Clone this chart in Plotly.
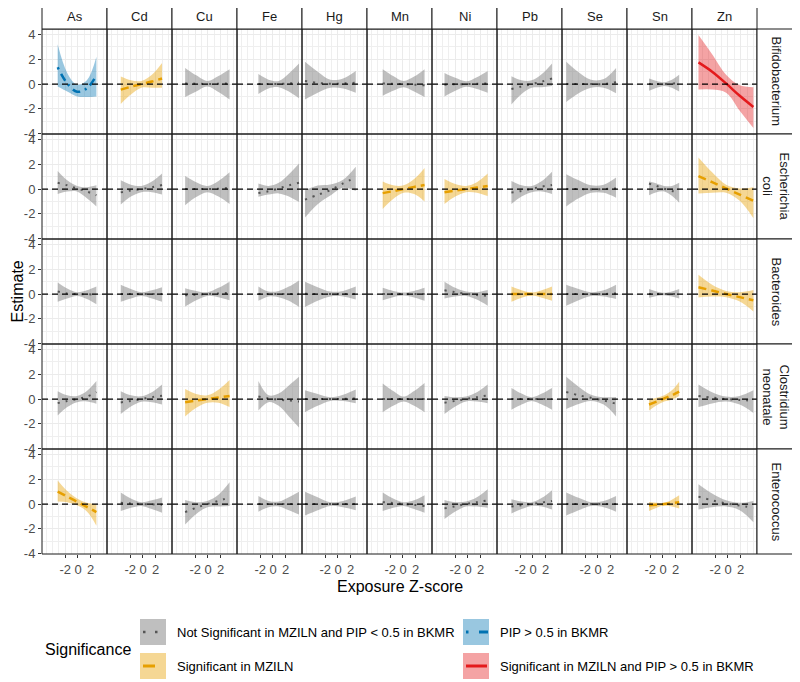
import plotly.graph_objects as go
from plotly.subplots import make_subplots

MICROBES = ["Bifidobacterium", "Escherichia<br>coli", "Bacteroides",
            "Clostridium<br>neonatale", "Enterococcus"]
METALS = ["As", "Cd", "Cu", "Fe", "Hg", "Mn", "Ni", "Pb", "Se", "Sn", "Zn"]

# exposure z-score grid per metal (aligned with METALS)
EXPOSURE_Z = [
    [-3.2, -1.7, -0.15, 1.4, 2.9],
    [-3.5, -1.9, -0.25, 1.4, 3.0],
    [-3.6, -1.85, -0.1, 1.65, 3.4],
    [-2.3, -0.7, 0.9, 2.5, 4.1],
    [-5.2, -3.2, -1.2, 0.8, 2.8],
    [-3.2, -1.55, 0.1, 1.75, 3.4],
    [-3.7, -2.0, -0.3, 1.4, 3.1],
    [-3.4, -1.8, -0.2, 1.4, 3.0],
    [-5.0, -3.05, -1.1, 0.9, 2.85],
    [-2.2, -1.0, 0.2, 1.4, 2.55],
    [-4.65, -2.5, -0.3, 1.85, 4.0],
]

# significance: ns = not significant, mz = MZILN, bk = BKMR PIP>0.5, both
SIG = [
    ["bk", "mz", "ns", "ns", "ns", "ns", "ns", "ns", "ns", "ns", "both"],
    ["ns", "ns", "ns", "ns", "ns", "mz", "mz", "ns", "ns", "ns", "mz"],
    ["ns", "ns", "ns", "ns", "ns", "ns", "ns", "mz", "ns", "ns", "mz"],
    ["ns", "ns", "mz", "ns", "ns", "ns", "ns", "ns", "ns", "mz", "ns"],
    ["mz", "ns", "ns", "ns", "ns", "ns", "ns", "ns", "ns", "mz", "ns"],
]

# Bifidobacterium
EST_BIF = [[1.35, 0.05, -0.62, -0.35, 0.7], [-0.45, -0.22, 0.0, 0.2, 0.45], [0.05, 0.03, 0.0, 0.02, 0.05],
           [0.0, 0.0, 0.0, 0.05, 0.1], [0.25, 0.1, 0.02, 0.05, 0.1], [0.05, 0.02, 0.0, -0.05, -0.1],
           [-0.05, -0.02, 0.0, 0.03, 0.05], [-0.4, -0.2, 0.0, 0.2, 0.45], [0.0, 0.0, 0.0, 0.0, 0.15],
           [0.0, 0.0, 0.0, 0.03, 0.1], [1.75, 1.0, 0.05, -0.95, -1.85]]
LOW_BIF = [[-0.2, -0.6, -1.0, -1.05, -1.0], [-1.6, -0.85, -0.3, -0.3, -0.3], [-1.05, -0.6, -0.2, -0.65, -1.25],
           [-0.8, -0.35, -0.25, -0.6, -1.15], [-1.25, -0.7, -0.3, -0.35, -0.7], [-0.95, -0.55, -0.25, -0.6, -1.05],
           [-1.0, -0.55, -0.22, -0.4, -0.7], [-1.65, -0.8, -0.3, -0.25, -0.15], [-1.45, -0.75, -0.3, -0.3, -0.75],
           [-0.55, -0.3, -0.15, -0.3, -0.6], [-0.45, -0.45, -0.7, -2.15, -3.55]]
UP_BIF = [[3.2, 0.9, -0.05, 0.3, 2.2], [0.6, 0.3, 0.25, 0.75, 1.7], [1.3, 0.7, 0.25, 0.65, 1.2],
          [0.8, 0.35, 0.25, 0.85, 1.65], [1.8, 1.0, 0.35, 0.45, 1.05], [1.2, 0.65, 0.25, 0.6, 1.2],
          [0.9, 0.5, 0.22, 0.55, 1.05], [0.63, 0.3, 0.3, 0.8, 1.65], [1.8, 0.95, 0.35, 0.4, 1.3],
          [0.45, 0.25, 0.15, 0.35, 0.75], [3.95, 2.4, 0.75, -0.1, -0.25]]

# Escherichia coli
EST_ECO = [[0.5, 0.3, 0.05, -0.2, -0.5], [-0.27, -0.12, 0.0, 0.15, 0.33], [0.0, 0.0, 0.0, 0.03, 0.1],
           [-0.32, -0.18, 0.05, 0.3, 0.5], [-0.85, -0.47, -0.08, 0.45, 0.95], [-0.33, -0.17, 0.0, 0.17, 0.33],
           [-0.25, -0.12, 0.0, 0.12, 0.25], [-0.27, -0.16, 0.02, 0.2, 0.33], [0.0, 0.0, -0.02, 0.0, 0.05],
           [0.44, 0.25, 0.02, -0.15, -0.25], [1.05, 0.55, 0.05, -0.45, -0.95]]
LOW_ECO = [[-0.4, -0.2, -0.2, -0.75, -1.4], [-1.25, -0.6, -0.25, -0.25, -0.45], [-1.3, -0.65, -0.25, -0.6, -1.2],
           [-0.63, -0.45, -0.35, -0.6, -1.05], [-2.3, -1.22, -0.53, 0.1, -0.15], [-1.6, -0.8, -0.3, -0.4, -1.0],
           [-1.2, -0.6, -0.25, -0.3, -0.57], [-1.2, -0.6, -0.25, -0.2, -0.4], [-1.4, -0.75, -0.3, -0.3, -0.7],
           [-0.5, -0.25, -0.2, -0.55, -1.1], [-0.35, -0.3, -0.3, -0.95, -2.35]]
UP_ECO = [[1.45, 0.7, 0.25, 0.15, 0.3], [0.7, 0.35, 0.25, 0.6, 1.25], [1.05, 0.55, 0.25, 0.65, 1.35],
          [0.45, 0.25, 0.5, 1.2, 2.07], [-0.1, 0.28, 0.37, 0.75, 1.8], [0.6, 0.3, 0.3, 0.8, 1.7],
          [0.8, 0.4, 0.25, 0.55, 1.25], [0.65, 0.3, 0.25, 0.65, 1.4], [1.2, 0.7, 0.3, 0.35, 0.93],
          [0.6, 0.45, 0.25, 0.25, 0.5], [2.55, 1.35, 0.35, 0.05, 0.15]]

# Bacteroides
EST_BAC = [[0.2, 0.05, 0.0, -0.02, -0.05], [0.0, 0.0, 0.0, 0.0, 0.0], [-0.1, -0.05, 0.0, 0.05, 0.1],
           [0.0, 0.0, 0.0, 0.0, 0.02], [0.02, 0.0, 0.0, 0.0, 0.0], [0.0, 0.0, 0.0, 0.0, 0.0],
           [0.3, 0.15, 0.02, -0.08, -0.15], [0.0, 0.0, 0.0, 0.0, 0.0], [0.0, 0.0, 0.0, 0.0, 0.05],
           [0.0, 0.0, 0.0, 0.0, 0.0], [0.55, 0.28, 0.0, -0.25, -0.5]]
LOW_BAC = [[-0.63, -0.35, -0.15, -0.4, -0.82], [-0.63, -0.35, -0.15, -0.35, -0.63], [-1.0, -0.5, -0.15, -0.25, -0.5],
           [-0.55, -0.2, -0.25, -0.55, -1.05], [-1.05, -0.55, -0.2, -0.2, -0.45], [-0.5, -0.25, -0.12, -0.28, -0.55],
           [-0.35, -0.2, -0.15, -0.45, -0.95], [-0.63, -0.3, -0.12, -0.3, -0.55], [-0.95, -0.5, -0.15, -0.2, -0.4],
           [-0.3, -0.15, -0.1, -0.2, -0.35], [-0.27, -0.2, -0.25, -0.6, -1.4]]
UP_BAC = [[0.93, 0.45, 0.15, 0.3, 0.6], [0.74, 0.4, 0.15, 0.3, 0.55], [0.46, 0.25, 0.15, 0.5, 1.0],
          [0.6, 0.2, 0.25, 0.6, 1.1], [1.0, 0.55, 0.2, 0.25, 0.6], [0.5, 0.25, 0.12, 0.25, 0.5],
          [1.0, 0.5, 0.2, 0.15, 0.33], [0.6, 0.3, 0.12, 0.3, 0.6], [0.74, 0.4, 0.15, 0.3, 0.74],
          [0.4, 0.2, 0.1, 0.2, 0.4], [1.55, 0.75, 0.25, 0.15, 0.33]]

# Clostridium neonatale
EST_CLO = [[-0.33, -0.15, 0.0, 0.2, 0.55], [-0.27, -0.15, 0.0, 0.15, 0.27], [-0.25, -0.12, 0.0, 0.12, 0.25],
           [0.2, 0.05, -0.05, -0.12, -0.2], [0.0, 0.0, 0.0, 0.02, 0.05], [0.0, 0.0, 0.0, 0.0, 0.0],
           [-0.3, -0.15, 0.0, 0.15, 0.3], [0.0, 0.0, 0.0, 0.0, 0.0], [0.57, 0.3, 0.1, -0.12, -0.38],
           [-0.44, -0.2, 0.05, 0.3, 0.6], [0.25, 0.12, 0.0, -0.07, -0.15]]
LOW_CLO = [[-1.33, -0.65, -0.25, -0.2, -0.38], [-1.2, -0.6, -0.22, -0.25, -0.44], [-1.4, -0.7, -0.3, -0.3, -0.65],
           [-0.93, -0.25, -0.55, -1.4, -2.3], [-1.07, -0.55, -0.15, -0.15, -0.33], [-1.07, -0.55, -0.2, -0.55, -1.07],
           [-1.2, -0.6, -0.2, -0.2, -0.33], [-0.87, -0.45, -0.15, -0.45, -0.87], [-0.8, -0.4, -0.15, -0.45, -1.4],
           [-0.93, -0.5, -0.2, -0.05, 0.25], [-0.65, -0.35, -0.2, -0.45, -1.12]]
UP_CLO = [[0.63, 0.3, 0.25, 0.65, 1.45], [0.63, 0.3, 0.22, 0.55, 1.17], [0.8, 0.4, 0.3, 0.75, 1.53],
          [1.45, 0.3, 0.45, 1.1, 1.8], [0.7, 0.4, 0.15, 0.35, 0.77], [1.26, 0.65, 0.2, 0.65, 1.3],
          [0.25, 0.15, 0.2, 0.55, 1.17], [0.9, 0.45, 0.15, 0.45, 0.9], [1.8, 1.0, 0.35, 0.15, 0.16],
          [-0.03, 0.1, 0.3, 0.7, 1.4], [1.17, 0.55, 0.2, 0.25, 0.7]]

# Enterococcus
EST_ENT = [[1.0, 0.6, 0.19, -0.23, -0.65], [0.1, 0.05, 0.0, -0.02, -0.05], [-0.65, -0.3, 0.0, 0.25, 0.55],
           [0.0, 0.0, 0.0, 0.0, 0.0], [0.0, 0.0, 0.0, 0.0, 0.0], [0.15, 0.08, 0.0, -0.07, -0.15],
           [-0.35, -0.18, 0.0, 0.15, 0.3], [-0.2, -0.1, 0.0, 0.12, 0.25], [0.0, 0.0, 0.0, 0.0, 0.0],
           [-0.1, -0.05, 0.0, 0.07, 0.15], [0.6, 0.3, 0.05, -0.12, -0.3]]
LOW_ENT = [[0.2, 0.15, -0.1, -0.6, -1.75], [-0.57, -0.3, -0.15, -0.4, -0.7], [-1.66, -0.8, -0.25, -0.2, -0.16],
           [-0.63, -0.25, -0.2, -0.5, -0.85], [-0.93, -0.5, -0.15, -0.25, -0.5], [-0.57, -0.3, -0.15, -0.4, -0.7],
           [-1.2, -0.6, -0.2, -0.2, -0.3], [-0.77, -0.4, -0.15, -0.2, -0.44], [-0.93, -0.5, -0.15, -0.25, -0.63],
           [-0.57, -0.3, -0.12, -0.2, -0.35], [-0.44, -0.25, -0.2, -0.5, -1.47]]
UP_ENT = [[1.9, 1.05, 0.45, 0.1, -0.02], [0.93, 0.45, 0.15, 0.3, 0.52], [0.33, 0.15, 0.25, 0.75, 1.75],
          [0.65, 0.25, 0.2, 0.55, 1.0], [1.0, 0.55, 0.15, 0.25, 0.6], [0.93, 0.45, 0.15, 0.3, 0.7],
          [0.33, 0.15, 0.2, 0.55, 1.2], [0.38, 0.2, 0.15, 0.5, 1.12], [0.93, 0.5, 0.15, 0.25, 0.65],
          [0.16, 0.1, 0.1, 0.35, 0.7], [1.6, 0.85, 0.3, 0.1, 0.25]]

EST = [EST_BIF, EST_ECO, EST_BAC, EST_CLO, EST_ENT]
LOW = [LOW_BIF, LOW_ECO, LOW_BAC, LOW_CLO, LOW_ENT]
UP = [UP_BIF, UP_ECO, UP_BAC, UP_CLO, UP_ENT]

LEGEND_LABELS = {
    "ns": "Not Significant in MZILN and PIP < 0.5 in BKMR",
    "mz": "Significant in MZILN",
    "bk": "PIP > 0.5 in BKMR",
    "both": "Significant in MZILN and PIP > 0.5 in BKMR",
}

STYLE = {
    "ns": dict(fill="rgba(128,128,128,0.5)", color="#555555", dash="2px,6px", width=2),
    "mz": dict(fill="rgba(230,159,0,0.42)", color="#E69F00", dash="8px,5px", width=2.5),
    "bk": dict(fill="rgba(0,114,178,0.4)", color="#0072B2", dash="2px,5px,8px,5px", width=2.5),
    "both": dict(fill="rgba(228,26,28,0.4)", color="#E41A1C", dash="solid", width=2.5),
}

FONT = "Liberation Sans, Arial, sans-serif"
XR = [-5.67, 4.57]
YR = [-4.03, 4.44]
# page body has an 8px default margin, so the figure is offset by 8px
OFF = 8
W, H = 800 - OFF, 682 - OFF
PL, PR, PT, PB = 42, 757, 29, 554      # panel block in window pixels
PW = PR - PL
PH = PB - PT


def px(x):
    return (x - PL) / PW


def py(y):
    return (PB - y) / PH


nr, nc = len(MICROBES), len(METALS)
fig = make_subplots(rows=nr, cols=nc, horizontal_spacing=0, vertical_spacing=0)

for r in range(nr):
    for c in range(nc):
        xs = EXPOSURE_Z[c]
        st = STYLE[SIG[r][c]]
        fig.add_trace(go.Scatter(x=xs, y=LOW[r][c], mode="lines",
                                 line=dict(width=0, shape="spline"),
                                 hoverinfo="skip", showlegend=False), row=r + 1, col=c + 1)
        fig.add_trace(go.Scatter(x=xs, y=UP[r][c], mode="lines", fill="tonexty",
                                 fillcolor=st["fill"], line=dict(width=0, shape="spline"),
                                 hoverinfo="skip", showlegend=False), row=r + 1, col=c + 1)
        fig.add_trace(go.Scatter(x=xs, y=EST[r][c], mode="lines",
                                 line=dict(color=st["color"], width=st["width"],
                                           dash=st["dash"], shape="spline"),
                                 showlegend=False), row=r + 1, col=c + 1)

fig.add_hline(y=0, line=dict(color="black", width=1.3, dash="6px,4px"), row="all", col="all")

fig.update_xaxes(range=XR, tickmode="array", tickvals=[-2, 0, 2], ticktext=["-2", "0", "2"],
                 showgrid=True, gridcolor="#EBEBEB", gridwidth=1,
                 minor=dict(tickmode="array", tickvals=[-5, -4, -3, -1, 1, 3, 4],
                            showgrid=True, gridcolor="#EFEFEF", gridwidth=0.6),
                 zeroline=False, showline=False,
                 showticklabels=False, ticks="", fixedrange=True)
fig.update_xaxes(showticklabels=True, ticks="outside", ticklen=3, tickwidth=1, tickcolor="#333333",
                 tickfont=dict(family=FONT, size=13, color="#4D4D4D"), row=nr)
fig.update_yaxes(range=YR, tickmode="array", tickvals=[-4, -2, 0, 2, 4],
                 ticktext=["-4", "-2", "0", "2", "4"],
                 showgrid=True, gridcolor="#EBEBEB", gridwidth=1,
                 minor=dict(tickmode="array", tickvals=[-3, -1, 1, 3],
                            showgrid=True, gridcolor="#EFEFEF", gridwidth=0.6),
                 zeroline=False, showline=False,
                 showticklabels=False, ticks="", fixedrange=True)
fig.update_yaxes(showticklabels=True, ticks="outside", ticklen=3, tickwidth=1, tickcolor="#333333",
                 tickfont=dict(family=FONT, size=13, color="#4D4D4D"), col=1)

shapes = list(fig.layout.shapes)
annotations = []
BORDER = dict(color="#1A1A1A", width=1)

# panel borders (drawn on top so neighbouring grids do not break them)
for r in range(nr):
    for c in range(nc):
        shapes.append(dict(type="rect", xref="paper", yref="paper", layer="above",
                           x0=c / nc, x1=(c + 1) / nc, y0=1 - (r + 1) / nr, y1=1 - r / nr,
                           fillcolor="rgba(0,0,0,0)", line=BORDER))

# top strips
strip_top = 1 + 25 / PH
for c, m in enumerate(METALS):
    shapes.append(dict(type="rect", xref="paper", yref="paper", x0=c / nc, x1=(c + 1) / nc,
                       y0=1, y1=strip_top, fillcolor="white", line=BORDER))
    annotations.append(dict(text=m, xref="paper", yref="paper", x=(c + 0.5) / nc, y=(1 + strip_top) / 2,
                            showarrow=False, xanchor="center", yanchor="middle",
                            font=dict(family=FONT, size=13, color="#1A1A1A")))
# right strips
strip_right = 1 + 38 / PW
for r, mb in enumerate(MICROBES):
    shapes.append(dict(type="rect", xref="paper", yref="paper", x0=1, x1=strip_right,
                       y0=1 - (r + 1) / nr, y1=1 - r / nr, fillcolor="white", line=BORDER))
    annotations.append(dict(text=mb, xref="paper", yref="paper", x=(1 + strip_right) / 2,
                            y=1 - (r + 0.5) / nr, showarrow=False, textangle=90,
                            xanchor="center", yanchor="middle",
                            font=dict(family=FONT, size=13, color="#1A1A1A")))

# axis titles
annotations.append(dict(text="Estimate", xref="paper", yref="paper", x=px(17), y=0.5, textangle=-90,
                        showarrow=False, xanchor="center", yanchor="middle",
                        font=dict(family=FONT, size=16, color="black")))
annotations.append(dict(text="Exposure Z-score", xref="paper", yref="paper", x=0.5, y=py(586),
                        showarrow=False, xanchor="center", yanchor="middle",
                        font=dict(family=FONT, size=16, color="black")))

# legend (drawn manually, ggplot style)
annotations.append(dict(text="Significance", xref="paper", yref="paper", x=px(43), y=py(649),
                        showarrow=False, xanchor="left", yanchor="middle",
                        font=dict(family=FONT, size=16, color="black")))
legend_items = [("ns", 140, 619), ("mz", 140, 653), ("bk", 463, 619), ("both", 463, 653)]
for key, kx, ky in legend_items:
    st = STYLE[key]
    shapes.append(dict(type="rect", xref="paper", yref="paper", x0=px(kx), x1=px(kx + 26),
                       y0=py(ky + 26), y1=py(ky), fillcolor=st["fill"], line=dict(width=0)))
    cy = py(ky + 13)
    if key == "ns":
        segs = [(kx + 3, kx + 5.5), (kx + 15, kx + 17.5)]
    elif key == "mz":
        segs = [(kx + 3, kx + 15)]
    elif key == "bk":
        segs = [(kx + 3, kx + 5.5), (kx + 16, kx + 25)]
    else:
        segs = [(kx + 3, kx + 24)]
    for a, b in segs:
        shapes.append(dict(type="line", xref="paper", yref="paper", x0=px(a), x1=px(b), y0=cy, y1=cy,
                           line=dict(color=st["color"], width=3 if key != "ns" else 2.5)))
    annotations.append(dict(text=LEGEND_LABELS[key], xref="paper", yref="paper", x=px(kx + 35), y=cy,
                            showarrow=False, xanchor="left", yanchor="middle",
                            font=dict(family=FONT, size=13, color="black")))

fig.update_layout(width=W, height=H,
                  margin=dict(l=PL - OFF, r=W + OFF - PR, t=PT - OFF, b=H + OFF - PB),
                  paper_bgcolor="white", plot_bgcolor="white",
                  font=dict(family=FONT, size=13, color="black"),
                  showlegend=False, shapes=shapes, annotations=annotations)

fig.write_html("out.html")
